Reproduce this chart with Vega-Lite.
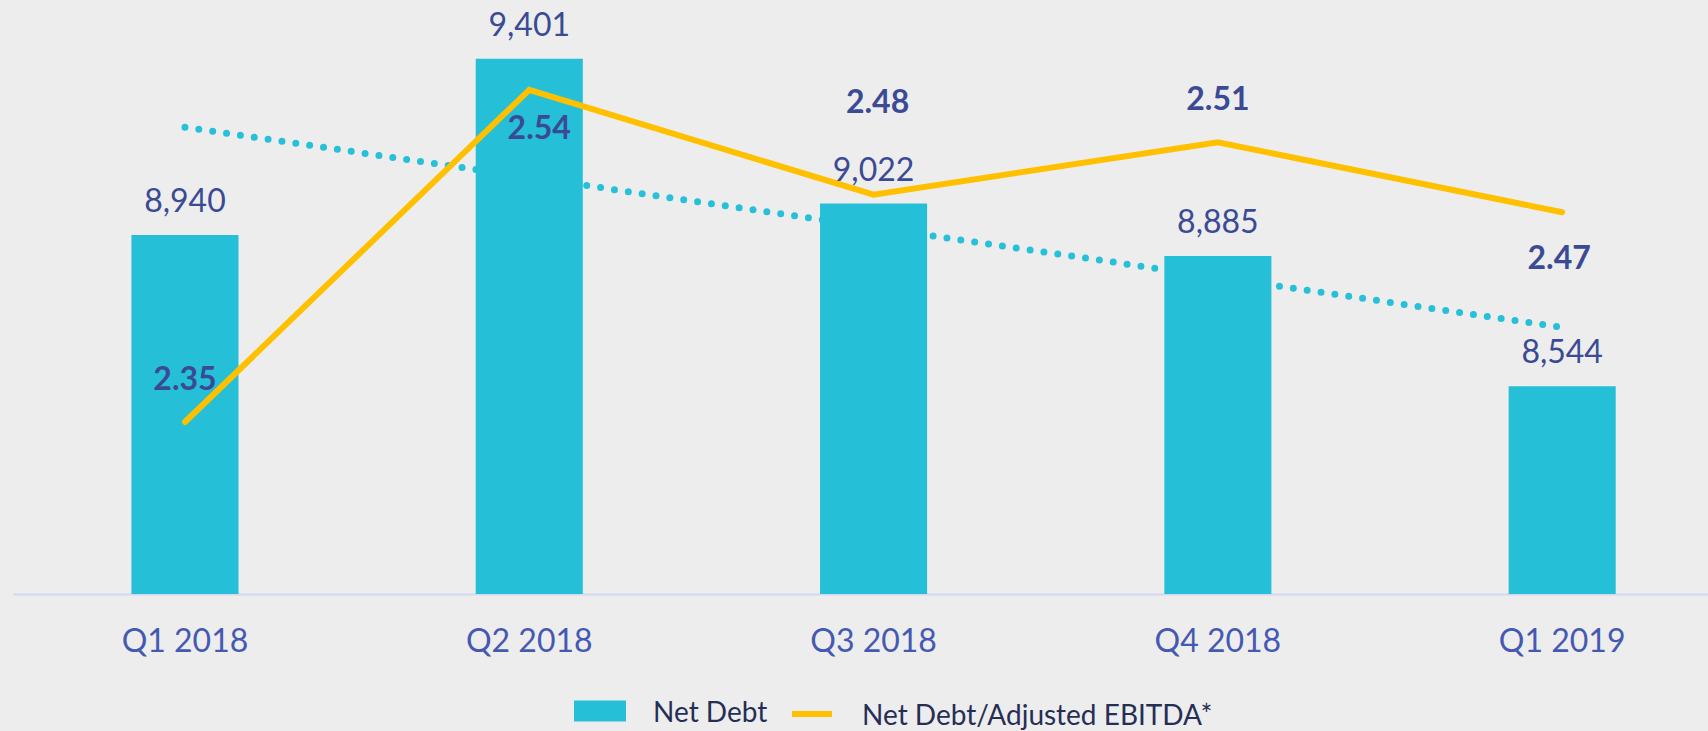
{
  "$schema": "https://vega.github.io/schema/vega-lite/v6.json",
  "width": 1695,
  "height": 594,
  "autosize": {"type": "none"},
  "padding": {"left": 13, "top": 0, "right": 0, "bottom": 137},
  "background": "#EDEDED",
  "config": {
    "view": {"stroke": null},
    "font": "Lato",
    "text": {"font": "Lato"}
  },
  "datasets": {
    "main": [
      {"q": "Q1 2018", "nd": 8940, "ratio": 2.35},
      {"q": "Q2 2018", "nd": 9401, "ratio": 2.54},
      {"q": "Q3 2018", "nd": 9022, "ratio": 2.48},
      {"q": "Q4 2018", "nd": 8885, "ratio": 2.51},
      {"q": "Q1 2019", "nd": 8544, "ratio": 2.47}
    ],
    "trend": [
      {"q": "Q1 2018", "trend": 9222},
      {"q": "Q1 2019", "trend": 8698}
    ]
  },
  "data": {"name": "main"},
  "encoding": {
    "x": {
      "field": "q",
      "type": "nominal",
      "sort": null,
      "scale": {"domain": ["Q1 2018", "Q2 2018", "Q3 2018", "Q4 2018", "Q1 2019"], "paddingInner": 0.689, "paddingOuter": 0.306, "align": 0.562},
      "axis": {
        "title": null,
        "orient": "bottom",
        "domainColor": "#D4D8EF",
        "domainWidth": 2,
        "ticks": false,
        "tickSize": 0,
        "grid": false,
        "labelFont": "Lato",
        "labelFontSize": 32,
        "labelColor": "#4659B2",
        "labelPadding": 47,
        "labelBaseline": "middle",
        "labelAngle": 0
      }
    }
  },
  "layer": [
    {
      "data": {"name": "trend"},
      "mark": {"type": "line", "color": "#27C0D9", "strokeWidth": 7, "strokeDash": [0, 14], "strokeCap": "round"},
      "encoding": {
        "y": {"field": "trend", "type": "quantitative", "scale": {"domain": [8000, 9555], "zero": false, "nice": false}, "axis": null}
      }
    },
    {
      "mark": {"type": "bar"},
      "encoding": {
        "y": {"field": "nd", "type": "quantitative", "scale": {"domain": [8000, 9555], "zero": false, "nice": false}, "axis": null},
        "y2": {"datum": 8000},
        "fill": {
          "datum": "Net Debt",
          "type": "nominal",
          "scale": {"domain": ["Net Debt"], "range": ["#26BFD8"]},
          "legend": {
            "orient": "none",
            "legendX": 561,
            "legendY": 688,
            "title": null,
            "padding": 0,
            "symbolType": "M-1,-0.52L1,-0.52L1,0.288L-1,0.288Z",
            "symbolSize": 2704,
            "symbolStrokeWidth": 0,
            "labelOffset": 27,
            "labelFont": "Lato",
            "labelFontSize": 28,
            "labelColor": "#262E55",
            "labelLimit": 600
          }
        }
      }
    },
    {
      "mark": {"type": "line", "strokeWidth": 6, "strokeCap": "round"},
      "encoding": {
        "y": {"field": "ratio", "type": "quantitative", "scale": {"domain": [2.2516, 2.5914], "zero": false, "nice": false}, "axis": null},
        "stroke": {
          "datum": "Net Debt/Adjusted EBITDA*",
          "type": "nominal",
          "scale": {"domain": ["Net Debt/Adjusted EBITDA*"], "range": ["#FFC000"]},
          "legend": {
            "orient": "none",
            "legendX": 776,
            "legendY": 694,
            "title": null,
            "padding": 0,
            "symbolType": "M-1,-0.15L1,-0.15",
            "symbolSize": 1600,
            "symbolStrokeWidth": 6,
            "labelOffset": 27,
            "labelFont": "Lato",
            "labelFontSize": 28,
            "labelColor": "#262E55",
            "labelLimit": 600
          }
        }
      }
    },
    {
      "mark": {"type": "text", "fontSize": 32, "color": "#3A4A94", "baseline": "middle", "dy": -33},
      "encoding": {
        "y": {"field": "nd", "type": "quantitative", "scale": {"domain": [8000, 9555], "zero": false, "nice": false}, "axis": null},
        "text": {"field": "nd", "type": "quantitative", "format": ","}
      }
    },
    {
      "transform": [{"filter": "datum.q == 'Q1 2018' || datum.q == 'Q4 2018'"}],
      "mark": {"type": "text", "fontSize": 32, "fontWeight": "bold", "color": "#3A4A94", "baseline": "middle", "dy": -42},
      "encoding": {
        "y": {"field": "ratio", "type": "quantitative", "scale": {"domain": [2.2516, 2.5914], "zero": false, "nice": false}, "axis": null},
        "text": {"field": "ratio", "type": "quantitative", "format": ".2f"}
      }
    },
    {
      "transform": [{"filter": "datum.q == 'Q2 2018'"}],
      "mark": {"type": "text", "fontSize": 32, "fontWeight": "bold", "color": "#3A4A94", "baseline": "middle", "dy": 39, "dx": 10},
      "encoding": {
        "y": {"field": "ratio", "type": "quantitative", "scale": {"domain": [2.2516, 2.5914], "zero": false, "nice": false}, "axis": null},
        "text": {"field": "ratio", "type": "quantitative", "format": ".2f"}
      }
    },
    {
      "transform": [{"filter": "datum.q == 'Q3 2018'"}],
      "mark": {"type": "text", "fontSize": 32, "fontWeight": "bold", "color": "#3A4A94", "baseline": "middle", "dy": -92, "dx": 4},
      "encoding": {
        "y": {"field": "ratio", "type": "quantitative", "scale": {"domain": [2.2516, 2.5914], "zero": false, "nice": false}, "axis": null},
        "text": {"field": "ratio", "type": "quantitative", "format": ".2f"}
      }
    },
    {
      "transform": [{"filter": "datum.q == 'Q1 2019'"}],
      "mark": {"type": "text", "fontSize": 32, "fontWeight": "bold", "color": "#3A4A94", "baseline": "middle", "dy": 47, "dx": -3},
      "encoding": {
        "y": {"field": "ratio", "type": "quantitative", "scale": {"domain": [2.2516, 2.5914], "zero": false, "nice": false}, "axis": null},
        "text": {"field": "ratio", "type": "quantitative", "format": ".2f"}
      }
    }
  ],
  "resolve": {"scale": {"y": "independent"}}
}
